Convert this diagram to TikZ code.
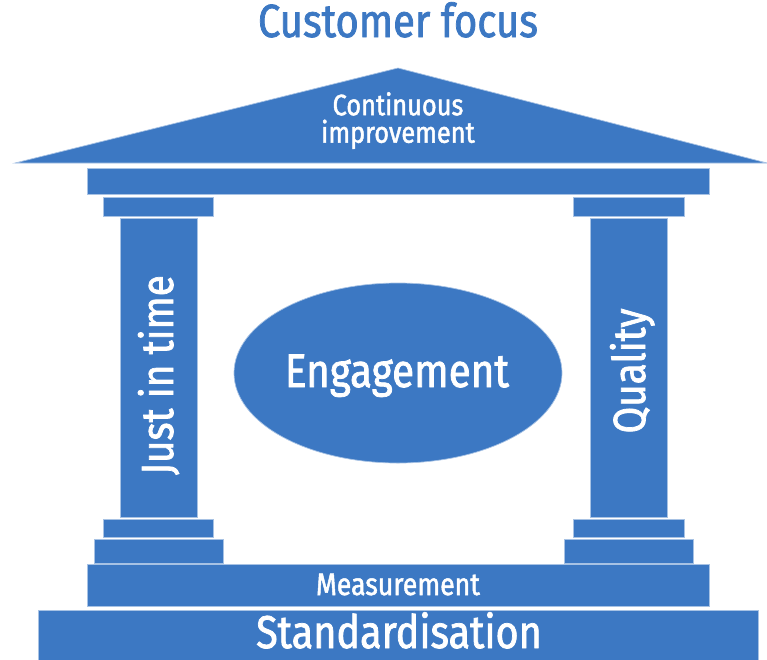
\documentclass[tikz,border=0pt]{standalone}
\usepackage{fontspec}
\setmainfont{Fira Sans}[FakeStretch=0.86, FakeBold=1.6]
\definecolor{pillarblue}{RGB}{60,120,195}
\begin{document}
\begin{tikzpicture}[x=1pt,y=-1pt,
  block/.style={fill=pillarblue, draw=pillarblue!45!white, line width=0.7pt},
  label/.style={text=white, inner sep=0pt, anchor=base},
]
\useasboundingbox (0,0) rectangle (767,659);

% roof
\path[block] (15,163) -- (398,68) -- (767,163) -- cycle;
% entablature
\path[block] (87,168) rectangle (709,194);

% left column: capital, shaft, two base steps
\path[block] (103,197) rectangle (213,216);
\path[block] (120,218) rectangle (197,517);
\path[block] (103,519) rectangle (213,537);
\path[block] (94,539) rectangle (223,563);

% right column
\path[block] (573,197) rectangle (684,216);
\path[block] (590,218) rectangle (667,517);
\path[block] (573,519) rectangle (684,537);
\path[block] (564,539) rectangle (693,563);

% foundation slabs
\path[block] (87,564) rectangle (709,606);
\path[block] (38,610) rectangle (758,662);

% centre ellipse
\path[block] (398,373) ellipse [x radius=164, y radius=90];

% labels
\node[anchor=base, inner sep=0pt, text=pillarblue,
      font=\fontsize{46.5}{53}\selectfont] (focus) at (398,37) {Customer focus};
\node[label, anchor=north, align=center, font=\fontsize{29.5}{27.5}\selectfont]
      (roof) at (398,92) {Continuous\\improvement};
\node[label, font=\fontsize{47}{54}\selectfont] (engage) at (397,387) {Engagement};
\node[label, rotate=90, font=\fontsize{45}{52}\selectfont] (jit) at (173,375) {Just in time};
\node[label, rotate=90, font=\fontsize{45}{52}\selectfont] (quality) at (645,371) {Quality};
\node[label, font=\fontsize{31}{36}\selectfont] (measure) at (398,595) {Measurement};
\node[label, font=\fontsize{46}{53}\selectfont] (standard) at (399,648) {Standardisation};
\end{tikzpicture}
\end{document}
